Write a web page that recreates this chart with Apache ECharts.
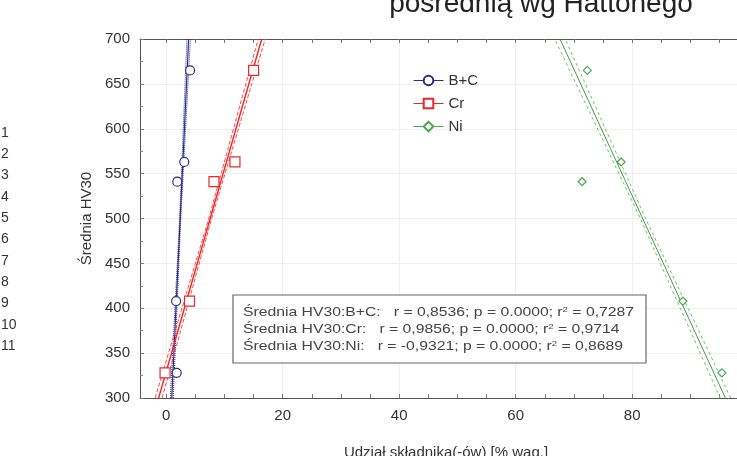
<!DOCTYPE html>
<html>
<head>
<meta charset="utf-8">
<script src="https://cdn.jsdelivr.net/npm/echarts@6/dist/echarts.min.js"></script>
<style>
  html, body { margin: 0; padding: 0; background: #fff; }
  #chart { width: 737px; height: 456px; }
</style>
</head>
<body>
<div id="chart"></div>
<script>
// średnia twardość HV30 dla pięciu próbek
const hvValues = [665, 563, 541, 408, 328];
// udział składnika [% wag.] dla tych samych próbek
const bcShare = [4.1, 3.1, 1.9, 1.7, 1.8];
const crShare = [15.0, 11.8, 8.2, 4.0, -0.2];
const niShare = [72.3, 78.1, 71.4, 88.7, 95.4];

// proste regresji (końce)
const fitHV = [300, 700];
const bcFit = [0.95, 3.85];
const crFit = [-1.3, 16.4];
const niFit = [96.0, 67.6];

// pasma ufności
const bandHV = [300, 500, 700];
const bcBandLo = [0.7, 2.3, 3.55];
const bcBandHi = [1.2, 2.5, 4.15];
const crBandLo = [-1.9, 7.3, 15.8];
const crBandHi = [-0.7, 7.8, 17.0];
const niBandLo = [95.1, 81.4, 66.7];
const niBandHi = [96.9, 82.3, 68.5];

const xLabels = [0, 20, 40, 60, 80, 100];
const xMinorTicks = [0, 5, 10, 15, 20, 25, 30, 35, 40, 45, 50, 55, 60, 65, 70, 75, 80, 85, 90, 95, 100];
const rowNumbers = ['1', '2', '3', '4', '5', '6', '7', '8', '9', '10', '11'];

const statLines = [
  'Średnia HV30:B+C:   r = 0,8536; p = 0.0000; r{s|2} = 0,7287',
  'Średnia HV30:Cr:   r = 0,9856; p = 0.0000; r{s|2} = 0,9714',
  'Średnia HV30:Ni:   r = -0,9321; p = 0.0000; r{s|2} = 0,8689'
];

const FONT = '"Liberation Sans", Arial, sans-serif';
const COL = { bc: '#2c2c8c', cr: '#e82a2a', ni: '#4fa64f' };

const zip = (xs, ys) => xs.map((x, i) => [x, ys[i]]);

function pointSeries(name, xs, color, symbol, size) {
  return {
    name: name,
    type: 'line',
    data: zip(xs, hvValues),
    symbol: symbol,
    symbolSize: size,
    showSymbol: true,
    lineStyle: { width: 0 },
    itemStyle: { color: '#fff', borderColor: color, borderWidth: 1.2 },
    z: 5,
    silent: true
  };
}

function lineSeries(xs, ys, color, type, width) {
  return {
    type: 'line',
    data: zip(xs, ys),
    symbol: 'none',
    lineStyle: { color: color, width: width, type: type },
    z: 3,
    silent: true
  };
}

const chart = echarts.init(document.getElementById('chart'), null, { renderer: 'canvas' });

const option = {
  animation: false,
  backgroundColor: '#fff',
  textStyle: { fontFamily: FONT },
  grid: { left: 140, top: 39, width: 632, height: 359, outerBoundsMode: 'none', containLabel: false },
  legend: {
    left: 408, top: 68,
    orient: 'vertical',
    itemGap: 8,
    itemWidth: 30, itemHeight: 12,
    textStyle: { fontFamily: FONT, fontSize: 15, color: '#333' },
    data: [
      { name: 'B+C', lineStyle: { width: 1, color: COL.bc, opacity: 1 } },
      { name: 'Cr', lineStyle: { width: 1, color: COL.cr, opacity: 1 } },
      { name: 'Ni', lineStyle: { width: 1, color: COL.ni, opacity: 1 } }
    ]
  },
  xAxis: [
    {
      type: 'value', position: 'bottom', min: -4.5, max: 104,
      name: 'Udział składnika(-ów) [% wag.]',
      nameLocation: 'middle', nameGap: 47,
      nameTextStyle: { fontFamily: FONT, fontSize: 15, color: '#333', padding: [0, 20, 0, 0] },
      axisLine: { onZero: false, lineStyle: { color: '#555', width: 1 } },
      axisTick: { inside: true, length: 4, customValues: xMinorTicks, lineStyle: { color: '#777' } },
      axisLabel: { customValues: xLabels, fontFamily: FONT, fontSize: 15, color: '#333', margin: 10, hideOverlap: false },
      splitLine: { show: false }
    },
    {
      type: 'value', position: 'top', min: -4.5, max: 104,
      axisLine: { onZero: false, lineStyle: { color: '#555', width: 1 } },
      axisTick: { inside: true, length: 4, customValues: xMinorTicks, lineStyle: { color: '#777' } },
      axisLabel: { show: false },
      splitLine: { show: false }
    },
    {
      type: 'value', position: 'bottom', min: -4.5, max: 104,
      axisLine: { show: false },
      axisTick: { show: false, customValues: xLabels },
      axisLabel: { show: false },
      splitLine: { show: true, lineStyle: { color: '#efefef', width: 1 } }
    }
  ],
  yAxis: {
    type: 'value', min: 300, max: 700, interval: 50,
    name: 'Średnia HV30',
    nameLocation: 'middle', nameGap: 46,
    nameTextStyle: { fontFamily: FONT, fontSize: 15, color: '#333' },
    axisLine: { show: true, onZero: false, lineStyle: { color: '#555', width: 1 } },
    axisTick: { inside: true, length: 4, lineStyle: { color: '#777' } },
    minorTick: { show: true, splitNumber: 2, length: 3, lineStyle: { color: '#888' } },
    axisLabel: { fontFamily: FONT, fontSize: 15, color: '#333', margin: 10 },
    splitLine: { show: true, lineStyle: { color: '#efefef', width: 1 } }
  },
  series: [
    lineSeries(bcBandLo, bandHV, COL.bc, 'dotted', 1),
    lineSeries(bcBandHi, bandHV, COL.bc, 'dotted', 1),
    lineSeries(bcFit, fitHV, COL.bc, 'solid', 1.2),
    lineSeries(crBandLo, bandHV, '#f05050', 'dashed', 1),
    lineSeries(crBandHi, bandHV, '#f05050', 'dashed', 1),
    lineSeries(crFit, fitHV, '#ff2020', 'solid', 1.4),
    lineSeries(niBandLo, bandHV, '#6cbf6c', [3, 3], 1),
    lineSeries(niBandHi, bandHV, '#6cbf6c', [3, 3], 1),
    lineSeries(niFit, fitHV, '#3f9f3f', 'solid', 1),
    pointSeries('B+C', bcShare, COL.bc, 'circle', 9),
    pointSeries('Cr', crShare, COL.cr, 'rect', 10),
    pointSeries('Ni', niShare, COL.ni, 'diamond', 8)
  ],
  graphic: [
    {
      type: 'text', x: 541, y: 4, z: 100,
      style: {
        text: 'pośrednią wg Hattonego',
        align: 'center', verticalAlign: 'middle',
        font: '28px ' + FONT, fill: '#222'
      }
    },
    {
      type: 'group', x: 1, y: 133,
      children: rowNumbers.map((t, i) => ({
        type: 'text', x: 0, y: i * 21.3, z: 100,
        style: { text: t, font: '14px ' + FONT, fill: '#333', verticalAlign: 'middle' }
      }))
    },
    {
      type: 'group', x: 233, y: 295,
      children: [
        {
          type: 'rect', z: 100, shape: { x: 0, y: 0, width: 413, height: 68 },
          style: { fill: '#fff', stroke: '#666', lineWidth: 1.2 }
        }
      ].concat(statLines.map((t, i) => ({
        type: 'text', x: 10, y: 17 + i * 17, z: 101, scaleX: 1.21,
        style: {
          text: t, font: '13px ' + FONT, fill: '#444', verticalAlign: 'middle',
          rich: { s: { fontSize: 8, verticalAlign: 'top', fill: '#444', fontFamily: FONT } }
        }
      })))
    }
  ]
};

chart.setOption(option);
</script>
</body>
</html>
